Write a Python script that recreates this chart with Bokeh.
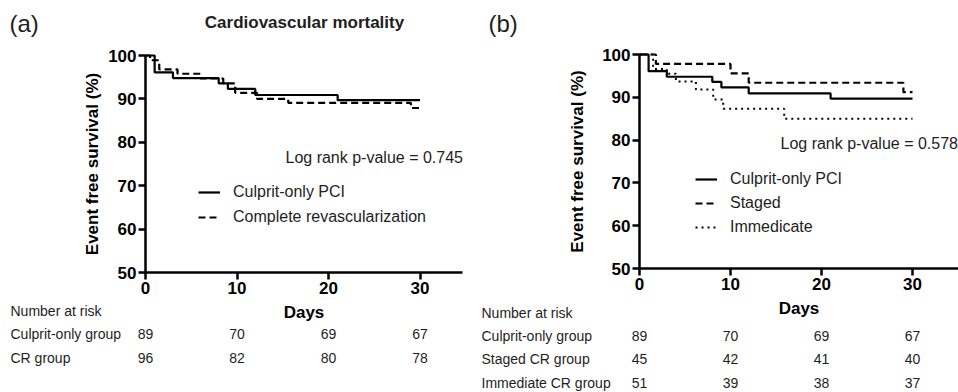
from bokeh.plotting import figure
from bokeh.layouts import row
from bokeh.core.properties import value
from bokeh.models import (Range1d, Label, LabelSet, ColumnDataSource, Legend,
                          LegendItem, FixedTicker, LinearAxis)
from bokeh.embed import file_html
from bokeh.resources import INLINE

# ---------------- data ----------------
day_ticks = [0, 10, 20, 30]
surv_ticks = [50, 60, 70, 80, 90, 100]

# Culprit-only PCI (same group in both panels)
culprit_t = [0, 1, 3, 8, 9, 12, 21, 30]
culprit_s = [100, 96.1, 94.8, 93.6, 92.3, 90.9, 89.7, 89.7]

# Complete revascularization (panel a)
cr_t = [0, 0.5, 1.5, 3.5, 6, 8.5, 9.8, 12.2, 15.6, 29.0, 30]
cr_s = [100, 98.9, 96.8, 95.8, 94.7, 93.6, 91.4, 90.0, 89.1, 87.9, 87.9]

# Staged CR (panel b)
staged_t = [0, 1.8, 10, 12, 29.0, 30]
staged_s = [100, 97.8, 95.6, 93.4, 91.2, 91.2]

# Immediate CR (panel b)
immediate_t = [0, 1.5, 3, 4, 6.2, 8.1, 9.2, 15.9, 30]
immediate_s = [100, 96.6, 95.5, 93.7, 91.8, 89.5, 87.3, 85.0, 85.0]

# Number at risk
risk_days = [0, 10, 20, 30]
risk_culprit = [89, 70, 69, 67]
risk_cr = [96, 82, 80, 78]
risk_staged = [45, 42, 41, 40]
risk_immediate = [51, 39, 38, 37]

p_value_a = "Log rank p-value = 0.745"
p_value_b = "Log rank p-value = 0.578"

FONT = "Liberation Sans"
TXT = "#1e1e1e"
H = 392


def base_fig(width, x0_px, px_per_day, y100_px, y50_px, x_axis_end, ylab_standoff):
    # frame fills the whole canvas; axes are pinned at day 0 / 50 %
    ppu = (y50_px - y100_px) / 50.0
    x_start = -x0_px / px_per_day
    x_end = (width - x0_px) / px_per_day
    y_top = 100 + y100_px / ppu
    y_bot = 50 - (H - y50_px) / ppu
    p = figure(width=width, height=H, output_backend="svg", toolbar_location=None,
               x_range=Range1d(x_start, x_end), y_range=Range1d(y_bot, y_top),
               x_axis_type=None, y_axis_type=None,
               min_border=0, min_border_left=0, min_border_right=0,
               min_border_top=0, min_border_bottom=0,
               background_fill_color="white", border_fill_color="white")
    p.outline_line_color = None
    p.grid.visible = False
    xa = LinearAxis(fixed_location=50, bounds=(0, x_axis_end),
                    ticker=FixedTicker(ticks=day_ticks), axis_label="Days")
    ya = LinearAxis(fixed_location=0, bounds=(50, 100),
                    ticker=FixedTicker(ticks=surv_ticks),
                    axis_label="Event free survival (%)")
    for ax in (xa, ya):
        ax.axis_line_width = 2.5
        ax.axis_line_color = "black"
        ax.major_tick_line_width = 2.5
        ax.major_tick_line_color = "black"
        ax.major_tick_out = 7
        ax.major_tick_in = 0
        ax.minor_tick_line_color = None
        ax.major_label_text_font = FONT
        ax.major_label_text_font_style = "bold"
        ax.major_label_text_font_size = "17px"
        ax.major_label_text_color = "black"
        ax.axis_label_text_font = FONT
        ax.axis_label_text_font_style = "bold"
        ax.axis_label_text_font_size = "17px"
        ax.axis_label_text_color = "black"
        ax.major_label_standoff = 2
    xa.axis_label_standoff = 6
    ya.axis_label_standoff = ylab_standoff
    p.add_layout(xa, "below")
    p.add_layout(ya, "left")
    return p


def add_text(p, x, y_top, text, size="16px", style="normal", align="left"):
    p.add_layout(Label(x=x, y=H - y_top, x_units="screen", y_units="screen", text=text,
                       text_font=FONT, text_font_size=size, text_font_style=style,
                       text_color=TXT, text_align=align, text_baseline="middle"))


def add_risk_row(p, label_x, y_top, name, counts):
    add_text(p, label_x, y_top, name, size="14px")
    src = ColumnDataSource(dict(x=risk_days, t=[str(c) for c in counts]))
    p.add_layout(LabelSet(x="x", y=H - y_top, y_units="screen", text="t", source=src,
                          text_font=value(FONT), text_font_size=value("14px"),
                          text_color=TXT, text_align="center", text_baseline="middle"))


def make_legend(items, loc, spacing):
    return Legend(items=items, location=loc, orientation="vertical",
                  background_fill_alpha=0, border_line_color=None,
                  padding=0, margin=0, spacing=spacing, glyph_width=22, glyph_height=20,
                  label_height=20, label_standoff=13,
                  label_text_font=FONT, label_text_font_size="16px",
                  label_text_color=TXT)


# ---------------- panel (a) ----------------
pa = base_fig(478, 145, 9.15, 55, 272, 34.6, 3)
ra1 = pa.step(culprit_t, culprit_s, mode="after", line_color="black", line_width=2.2)
ra2 = pa.step(cr_t, cr_s, mode="after", line_color="black", line_width=2.2,
              line_dash="7 4")
pa.add_layout(make_legend([LegendItem(label="Culprit-only PCI", renderers=[ra1]),
                           LegendItem(label="Complete revascularization", renderers=[ra2])],
                          (198, H - 227), 5))

add_text(pa, 9, 23, "(a)", size="24px")
add_text(pa, 304, 22, "Cardiovascular mortality", size="17px", style="bold", align="center")
add_text(pa, 285, 157, p_value_a)
add_text(pa, 10, 310, "Number at risk", size="14px")
add_risk_row(pa, 10, 333, "Culprit-only group", risk_culprit)
add_risk_row(pa, 10, 357, "CR group", risk_cr)

# ---------------- panel (b) ----------------
pb = base_fig(480, 161, 9.1, 54, 268, 35.1, 12)
rb1 = pb.step(culprit_t, culprit_s, mode="after", line_color="black", line_width=2.2)
rb2 = pb.step(staged_t, staged_s, mode="after", line_color="black", line_width=2.2,
              line_dash="7 4")
rb3 = pb.step(immediate_t, immediate_s, mode="after", line_color="black", line_width=2,
              line_dash="2 4")
pb.add_layout(make_legend([LegendItem(label="Culprit-only PCI", renderers=[rb1]),
                           LegendItem(label="Staged", renderers=[rb2]),
                           LegendItem(label="Immedicate", renderers=[rb3])],
                          (217, H - 237), 4))

add_text(pb, 10, 23, "(b)", size="24px")
add_text(pb, 302, 143, p_value_b)
add_text(pb, 3, 312, "Number at risk", size="14px")
add_risk_row(pb, 3, 335, "Culprit-only group", risk_culprit)
add_risk_row(pb, 3, 358, "Staged CR group", risk_staged)
add_risk_row(pb, 3, 382, "Immediate CR group", risk_immediate)

layout = row(pa, pb)
open("out.html", "w").write(file_html(layout, INLINE))
